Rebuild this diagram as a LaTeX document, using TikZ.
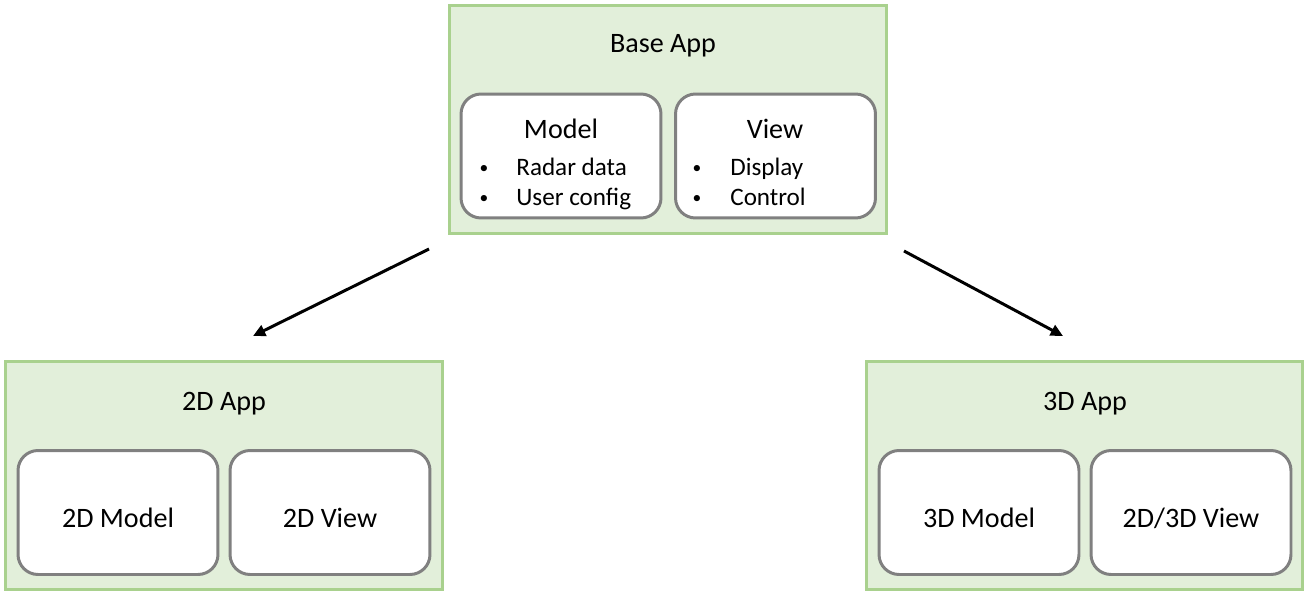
\documentclass[tikz,border=0pt]{standalone}
\usepackage{fontspec}
\setmainfont{Carlito}
\usetikzlibrary{arrows.meta}

\definecolor{appfill}{HTML}{E2EFDA}
\definecolor{appline}{HTML}{A9D18E}
\definecolor{partline}{HTML}{808080}

\tikzset{
  app/.style={draw=appline, fill=appfill, line width=1.7pt, minimum width=8.74cm, minimum height=4.58cm},
  part/.style={draw=partline, fill=white, line width=1.7pt, rounded corners=0.4cm, minimum width=4cm, minimum height=2.48cm, text height=16.5pt, text depth=0pt, font=\fontsize{16}{19}\selectfont},
  head/.style={anchor=base, font=\fontsize{16}{19}\selectfont},
  item/.style={anchor=base west, inner sep=0pt, font=\fontsize{14.3}{17}\selectfont},
  dot/.style={anchor=base, inner sep=0pt, font=\fontsize{10}{12}\selectfont},
  inherit/.style={-{Triangle[length=7pt,width=6.5pt]}, line width=1.7pt}
}

\begin{document}
\begin{tikzpicture}[x=0.02cm, y=-0.02cm]
  \useasboundingbox (0,0) rectangle (1311,595);

  % Base app
  \node[app] (base) at (668,119.5) {};
  \node[head] (basetitle) at (663,52) {Base App};
  \node[part] (model) at (561,156) {};
  \node[part] (view) at (775.5,156) {};
  \node[head] (modeltitle) at (561,138) {Model};
  \node[dot] (mdot1) at (484,173) {\textbullet};
  \node[item] (radar) at (516,175) {Radar data};
  \node[dot] (mdot2) at (484,203) {\textbullet};
  \node[item] (userconf) at (516,205) {User config};
  \node[head] (viewtitle) at (775,138) {View};
  \node[dot] (vdot1) at (697,173) {\textbullet};
  \node[item] (display) at (730,175) {Display};
  \node[dot] (vdot2) at (697,203) {\textbullet};
  \node[item] (control) at (730,205) {Control};

  % 2D app
  \node[app] (twod) at (224,475.5) {};
  \node[head] (twodtitle) at (224,410) {2D App};
  \node[part] (twodmodel) at (118,512.5) {2D Model};
  \node[part] (twodview) at (330,512.5) {2D View};

  % 3D app
  \node[app] (threed) at (1084.5,475.5) {};
  \node[head] (threedtitle) at (1085,410) {3D App};
  \node[part] (threedmodel) at (979,512.5) {3D Model};
  \node[part] (threedview) at (1191,512.5) {2D/3D View};

  % Arrows
  \coordinate (ltail) at (429,249);
  \coordinate (lhead) at (253,336);
  \coordinate (rtail) at (904,251);
  \coordinate (rhead) at (1063,336);
  \draw[inherit] (ltail) -- (lhead);
  \draw[inherit] (rtail) -- (rhead);
\end{tikzpicture}
\end{document}
